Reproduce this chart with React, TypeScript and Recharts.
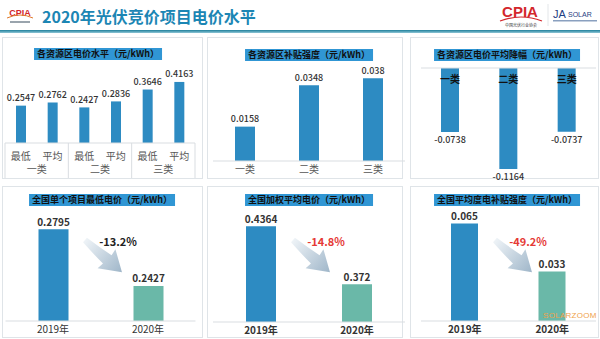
import type { ReactNode } from 'react';
import { Bar, BarChart, Cell, LabelList, ReferenceLine, XAxis, YAxis } from 'recharts';

const FONT = '"Noto Sans CJK SC", "Noto Sans", sans-serif';
const BLUE = '#2d8bc2';
const TEAL = '#6ab8a8';
const TITLE_BG = '#3096d4';
const GRID = '#d9dde1';

const regionGroups = ['一类', '二类', '三类'];
const priceLevelLabels = ['最低', '平均', '最低', '平均', '最低', '平均'];
const priceLevelValues = [0.2547, 0.2762, 0.2427, 0.2836, 0.3646, 0.4163];
const subsidyValues = [0.0158, 0.0348, 0.038];
const priceDropValues = [-0.0738, -0.1164, -0.0737];
const years = ['2019年', '2020年'];
const minPriceValues = [0.2795, 0.2427];
const avgPriceValues = [0.4364, 0.372];
const avgSubsidyValues = [0.065, 0.033];
const changeLabels = ['-13.2%', '-14.8%', '-49.2%'];

const priceLevelData = priceLevelValues.map((value, i) => ({
  name: priceLevelLabels[i],
  group: regionGroups[Math.floor(i / 2)],
  value,
}));
const subsidyData = regionGroups.map((name, i) => ({ name, value: subsidyValues[i] }));
const priceDropData = regionGroups.map((name, i) => ({ name, value: priceDropValues[i] }));
const toYearData = (values: number[]) => years.map((name, i) => ({ name, value: values[i] }));

// chart 1 geometry (needed by the two-level tick)
const C1 = { width: 200, height: 140, ml: 3, mr: 7 };
const PRICE_BAND = (C1.width - C1.ml - C1.mr) / priceLevelData.length;

const Panel = ({ left, top, width, height }: { left: number; top: number; width: number; height: number }) => (
  <div
    style={{
      position: 'absolute',
      left,
      top,
      width,
      height,
      border: '1px solid #dfe4e8',
      boxSizing: 'border-box',
      background: '#fff',
    }}
  />
);

const ChartTitle = ({ center, top, children }: { center: number; top: number; children: ReactNode }) => (
  <div
    style={{
      position: 'absolute',
      left: center,
      top,
      transform: 'translateX(-50%)',
      background: TITLE_BG,
      color: '#111',
      fontSize: 9,
      fontWeight: 700,
      lineHeight: '12px',
      padding: '0 3px',
      whiteSpace: 'nowrap',
      zIndex: 2,
    }}
  >
    {children}
  </div>
);

const makeValueLabel = (fontSize: number, weight: number) => (props: any) => {
  const { x, y, width, height, value } = props;
  const top = Math.min(y, y + height);
  const bottom = Math.max(y, y + height);
  return (
    <text
      x={x + width / 2}
      y={value < 0 ? bottom + 8 : top - 8}
      textAnchor="middle"
      dominantBaseline="central"
      fontSize={fontSize}
      fontWeight={weight}
      fill="#333"
      fontFamily={FONT}
    >
      {value}
    </text>
  );
};
const smallValueLabel = makeValueLabel(9, 500);
const valueLabel = makeValueLabel(10, 600);

const insideNameLabel = (props: any) => {
  const { x, y, width, height, value } = props;
  const top = Math.min(y, y + height);
  return (
    <text
      x={x + width / 2}
      y={top + 10}
      textAnchor="middle"
      dominantBaseline="central"
      fontSize={10}
      fontWeight={700}
      fill="#111"
      fontFamily={FONT}
    >
      {value}
    </text>
  );
};

const PriceLevelTick = (props: any) => {
  const { x, y, index, payload } = props;
  const half = PRICE_BAND / 2;
  const last = priceLevelData.length - 1;
  return (
    <g fontFamily={FONT} fontSize={10} fill="#555">
      <text x={x} y={y + 12} textAnchor="middle" dominantBaseline="central" fill="#555">
        {payload.value}
      </text>
      {index % 2 === 0 && (
        <>
          <line x1={x - half} x2={x - half} y1={y} y2={y + 35} stroke={GRID} />
          <text x={x + half} y={y + 25} textAnchor="middle" dominantBaseline="central" fill="#555">
            {priceLevelData[index].group}
          </text>
        </>
      )}
      {index === last && <line x1={x + half} x2={x + half} y1={y} y2={y + 35} stroke={GRID} />}
    </g>
  );
};

const Arrow = ({ left, top }: { left: number; top: number }) => (
  <svg
    width={60}
    height={56}
    style={{ position: 'absolute', left: left - 8, top: top - 14, zIndex: 1 }}
  >
    <defs>
      <linearGradient id={`arrowGrad${left}`} x1="0" y1="0" x2="1" y2="0">
        <stop offset="0%" stopColor="#eef3f7" />
        <stop offset="100%" stopColor="#9fb6c9" />
      </linearGradient>
    </defs>
    <g transform="translate(8,14) rotate(41)">
      <path
        d="M0,-3 Q16,-4 30,-6 L29,-13 L49,0 L28,13 L29,6 Q15,5 0,3 Z"
        fill={`url(#arrowGrad${left})`}
      />
    </g>
  </svg>
);

const ChangeText = ({ center, top, color, children }: { center: number; top: number; color: string; children: ReactNode }) => (
  <div
    style={{
      position: 'absolute',
      left: center,
      top,
      transform: 'translate(-50%, -50%)',
      color,
      fontSize: 11,
      fontWeight: 700,
      whiteSpace: 'nowrap',
      zIndex: 2,
    }}
  >
    {children}
  </div>
);

type YearChartProps = {
  values: number[];
  left: number;
  top: number;
  width: number;
  margin: { top: number; right: number; left: number; bottom: number };
  domain: [number, number];
  axisHeight: number;
  barSize: number;
  bold?: boolean;
};

const YearChart = ({ values, left, top, width, margin, domain, axisHeight, barSize, bold }: YearChartProps) => (
  <div style={{ position: 'absolute', left, top, zIndex: 1 }}>
    <BarChart width={width} height={154} data={toYearData(values)} margin={margin}>
      <XAxis
        dataKey="name"
        height={axisHeight}
        tickLine={false}
        tickSize={0}
        tickMargin={5}
        axisLine={{ stroke: GRID }}
        tick={{ fontSize: 10, fill: '#333', fontWeight: bold ? 700 : 400, fontFamily: FONT }}
      />
      <YAxis hide domain={domain} allowDataOverflow />
      <Bar dataKey="value" barSize={barSize} isAnimationActive={false}>
        {values.map((_, i) => (
          <Cell key={years[i]} fill={i === 0 ? BLUE : TEAL} />
        ))}
        <LabelList dataKey="value" content={valueLabel} />
      </Bar>
    </BarChart>
  </div>
);

export default function App() {
  return (
    <div
      style={{
        position: 'relative',
        width: 600,
        height: 339,
        overflow: 'hidden',
        background: '#fff',
        fontFamily: FONT,
      }}
    >
      <style>{'body{margin:0}'}</style>

      {/* header */}
      <svg width={600} height={34} style={{ position: 'absolute', left: 0, top: 0 }}>
        <text x={20} y={16} textAnchor="middle" fontSize={9} fontWeight={700} fill="#d3272c" fontFamily="Liberation Sans">
          CPIA
        </text>
        <path d="M7,18 Q20,12 33,18" stroke="#e0782a" strokeWidth={1} fill="none" />
        <rect x={10} y={21} width={20} height={2} fill="#9aa4ad" />
        <text x={520} y={17} textAnchor="middle" fontSize={15} fontWeight={700} fill="#d3272c" fontFamily="Liberation Sans">
          CPIA
        </text>
        <path d="M500,21 Q521,13 542,21" stroke="#d3272c" strokeWidth={1.2} fill="none" />
        <text x={521} y={27} textAnchor="middle" fontSize={4} fill="#333" fontFamily={FONT}>
          中国光伏行业协会
        </text>
        <line x1={548} x2={548} y1={4} y2={26} stroke="#e3e6e9" />
        <text x={553} y={18} fontSize={11} fill="#1f3e82" fontFamily="Liberation Sans">
          JA
        </text>
        <text x={568} y={17} fontSize={7} fill="#1f3e82" fontFamily="Liberation Sans">
          SOLAR
        </text>
        <rect x={553} y={20} width={44} height={1.5} fill="#8aa0bf" />
      </svg>
      <div
        style={{
          position: 'absolute',
          left: 42,
          top: 4,
          fontSize: 16,
          fontWeight: 700,
          color: '#1c86b4',
          whiteSpace: 'nowrap',
          lineHeight: '24px',
        }}
      >
        2020年光伏竞价项目电价水平
      </div>
      <div
        style={{
          position: 'absolute',
          left: 0,
          top: 30,
          width: 600,
          height: 3,
          background: 'linear-gradient(#1d7f9b, #8fc6d6)',
        }}
      />

      {/* panels */}
      <Panel left={2} top={37} width={201} height={142} />
      <Panel left={207} top={37} width={196} height={142} />
      <Panel left={410} top={37} width={189} height={142} />
      <Panel left={2} top={186} width={201} height={152} />
      <Panel left={207} top={186} width={196} height={152} />
      <Panel left={410} top={186} width={189} height={152} />

      {/* top row */}
      <ChartTitle center={98} top={48}>各资源区电价水平（元/kWh）</ChartTitle>
      <div style={{ position: 'absolute', left: 2, top: 38, zIndex: 1 }}>
        <BarChart
          width={C1.width}
          height={C1.height}
          data={priceLevelData}
          margin={{ top: 39, right: C1.mr, left: C1.ml, bottom: 0 }}
        >
          <XAxis
            dataKey="name"
            height={35}
            tickLine={false}
            tickSize={0}
            tickMargin={0}
            interval={0}
            axisLine={{ stroke: GRID }}
            tick={PriceLevelTick}
          />
          <YAxis hide domain={[0, 0.45]} allowDataOverflow />
          <Bar dataKey="value" fill={BLUE} barSize={10} isAnimationActive={false}>
            <LabelList dataKey="value" content={smallValueLabel} />
          </Bar>
        </BarChart>
      </div>

      <ChartTitle center={309} top={49}>各资源区补贴强度（元/kWh）</ChartTitle>
      <div style={{ position: 'absolute', left: 204, top: 38, zIndex: 1 }}>
        <BarChart width={202} height={140} data={subsidyData} margin={{ top: 36, right: 1, left: 9, bottom: 0 }}>
          <XAxis
            dataKey="name"
            height={17}
            tickLine={false}
            tickSize={0}
            tickMargin={5}
            axisLine={{ stroke: GRID }}
            tick={{ fontSize: 10, fill: '#555', fontFamily: FONT }}
          />
          <YAxis hide domain={[0, 0.04]} allowDataOverflow />
          <Bar dataKey="value" fill={BLUE} barSize={20} isAnimationActive={false}>
            <LabelList dataKey="value" content={smallValueLabel} />
          </Bar>
        </BarChart>
      </div>

      <ChartTitle center={507} top={49}>各资源区电价平均降幅（元/kWh）</ChartTitle>
      <div style={{ position: 'absolute', left: 412, top: 38, zIndex: 1 }}>
        <BarChart width={186} height={145} data={priceDropData} margin={{ top: 30, right: 2, left: 9, bottom: 11 }}>
          <XAxis dataKey="name" hide />
          <YAxis hide domain={[-0.12, 0]} allowDataOverflow />
          <ReferenceLine y={0} stroke={GRID} />
          <Bar dataKey="value" fill={BLUE} barSize={18} isAnimationActive={false}>
            <LabelList dataKey="value" content={smallValueLabel} />
            <LabelList dataKey="name" content={insideNameLabel} />
          </Bar>
        </BarChart>
      </div>

      {/* bottom row */}
      <ChartTitle center={102} top={194}>全国单个项目最低电价（元/kWh）</ChartTitle>
      <YearChart
        values={minPriceValues}
        left={2}
        top={185}
        width={200}
        margin={{ top: 28, right: 6.5, left: 3.5, bottom: 0 }}
        domain={[0.22, 0.29]}
        axisHeight={18}
        barSize={30}
      />
      <Arrow left={85} top={240} />
      <ChangeText center={118} top={241} color="#222">
        {changeLabels[0]}
      </ChangeText>

      <ChartTitle center={309} top={194}>全国加权平均电价（元/kWh）</ChartTitle>
      <YearChart
        values={avgPriceValues}
        left={204}
        top={185}
        width={202}
        margin={{ top: 29, right: 1, left: 9, bottom: 0 }}
        domain={[0.33, 0.45]}
        axisHeight={17}
        barSize={30}
        bold
      />
      <Arrow left={293} top={240} />
      <ChangeText center={326} top={241} color="#e53935">
        {changeLabels[1]}
      </ChangeText>

      <ChartTitle center={507} top={194}>全国平均度电补贴强度（元/kWh）</ChartTitle>
      <YearChart
        values={avgSubsidyValues}
        left={412}
        top={185}
        width={186}
        margin={{ top: 28, right: 2, left: 9, bottom: 0 }}
        domain={[0, 0.072]}
        axisHeight={18}
        barSize={27}
        bold
      />
      <Arrow left={495} top={240} />
      <ChangeText center={528} top={241} color="#e53935">
        {changeLabels[2]}
      </ChangeText>

      <div
        style={{
          position: 'absolute',
          left: 543,
          top: 311,
          fontSize: 8,
          lineHeight: '9px',
          color: '#f0a24a',
          fontFamily: 'Liberation Sans',
          letterSpacing: 0.3,
          zIndex: 3,
        }}
      >
        SOLARZOOM
      </div>
    </div>
  );
}
